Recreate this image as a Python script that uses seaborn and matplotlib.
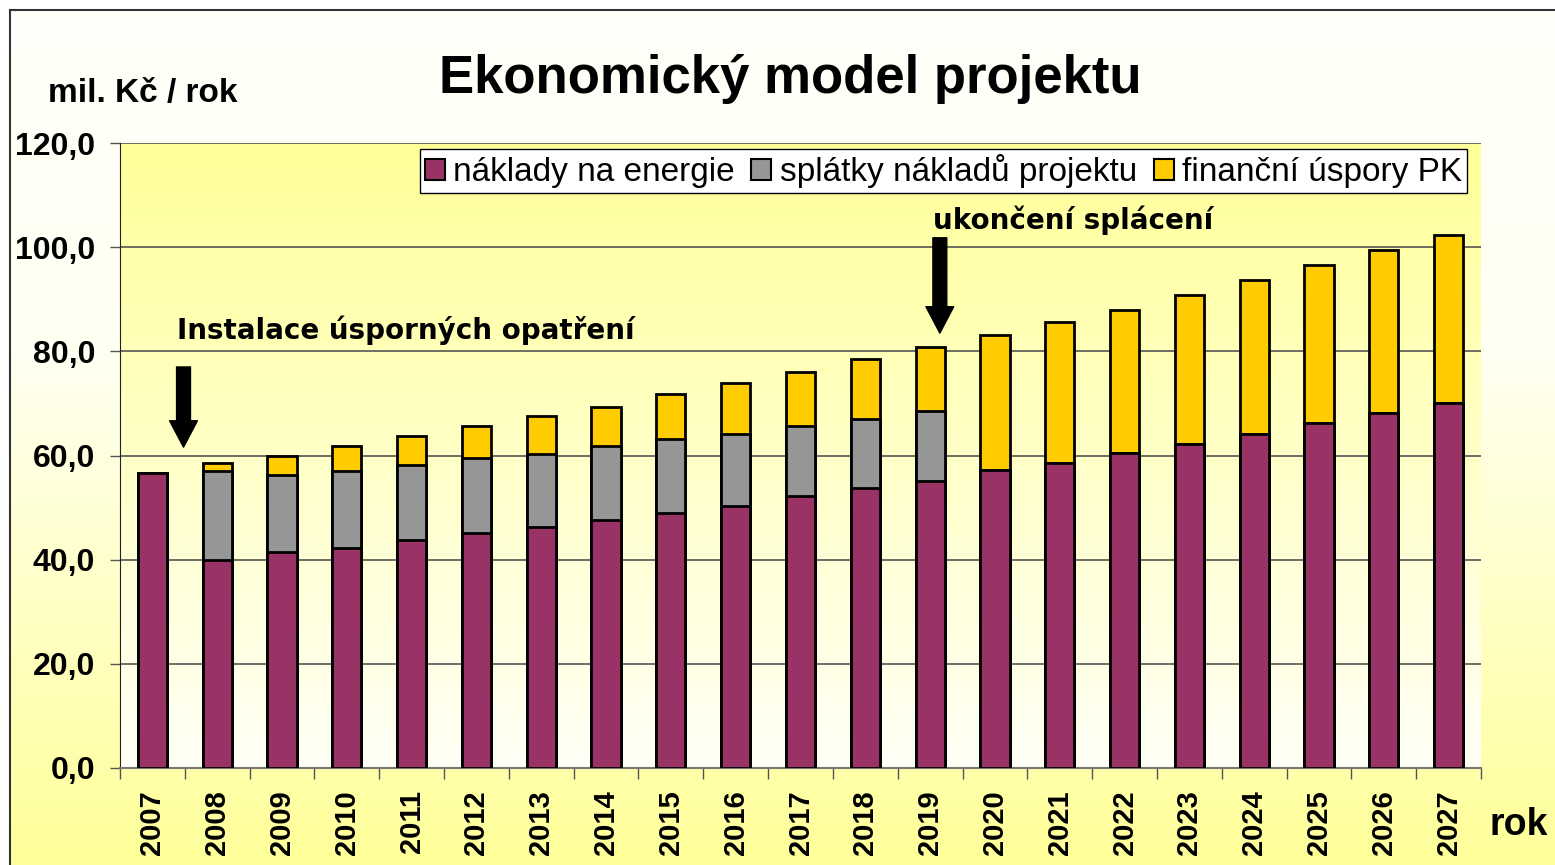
import numpy as np
import pandas as pd
import matplotlib
matplotlib.use("Agg")
import matplotlib.pyplot as plt
from matplotlib.colors import LinearSegmentedColormap
from matplotlib.patches import Patch
from matplotlib.lines import Line2D
import seaborn as sns

# 1. Data (mil. Kč / rok)
roky = [str(r) for r in range(2007, 2028)]
naklady = [56.6, 39.9, 41.4, 42.3, 43.8, 45.2, 46.2, 47.6, 49.0, 50.4, 52.3,
           53.8, 55.2, 57.2, 58.5, 60.4, 62.3, 64.2, 66.2, 68.1, 70.0]
splatky = [0.0, 17.1, 14.8, 14.8, 14.3, 14.3, 14.1, 14.2, 14.2, 13.8, 13.3,
           13.3, 13.3, 0.0, 0.0, 0.0, 0.0, 0.0, 0.0, 0.0, 0.0]
uspory = [0.0, 1.6, 3.8, 4.8, 5.7, 6.2, 7.3, 7.6, 8.7, 9.7, 10.5,
          11.4, 12.4, 26.0, 27.1, 27.6, 28.6, 29.5, 30.4, 31.3, 32.3]
legend_labels = ["náklady na energie", "splátky nákladů projektu", "finanční úspory PK"]
y_ticks = [0, 20, 40, 60, 80, 100, 120]

barvy = ["#993366", "#969696", "#FFCC00"]

df = pd.DataFrame({"rok": roky, "naklady": naklady, "splatky": splatky, "uspory": uspory})
df["do_splatek"] = df["naklady"] + df["splatky"]
df["celkem"] = df["do_splatek"] + df["uspory"]

plt.rcParams["font.family"] = ["Liberation Sans", "DejaVu Sans"]

fig = plt.figure(figsize=(15.55, 8.65), dpi=100, facecolor="white")

# 2. Backgrounds (figure gradient + plot area gradient)
bg = fig.add_axes([10 / 1555, 0, 1 - 10 / 1555, 1 - 10 / 865], zorder=-10)
bg_cmap = LinearSegmentedColormap.from_list(
    "bg", [(0, "#FFFF99"), (0.6, "#FFFFF2"), (1, "#FFFFFA")])
bg.imshow(np.linspace(0, 1, 256).reshape(-1, 1), aspect="auto", cmap=bg_cmap,
          origin="lower", extent=[0, 1, 0, 1])
bg.axis("off")

# frame lines
fig.add_artist(Line2D([10 / 1555, 10 / 1555], [0, 1 - 10 / 865], color="#333333", lw=1.5))
fig.add_artist(Line2D([10 / 1555, 1], [1 - 10 / 865, 1 - 10 / 865], color="#333333", lw=1.5))

ax = fig.add_axes([120 / 1555, 97 / 865, 1361 / 1555, 625 / 865], facecolor="none")

# 3. Stacked bars (drawn as overlapping cumulative bars)
for col, barva in zip(["celkem", "do_splatek", "naklady"], barvy[::-1]):
    sns.barplot(data=df, x="rok", y=col, color=barva, saturation=1, width=0.45,
                edgecolor="black", linewidth=2, ax=ax, zorder=3)

ax_cmap = LinearSegmentedColormap.from_list("ax", ["#FFFFF6", "#FFFF99"])
ax.imshow(np.linspace(0, 1, 256).reshape(-1, 1), aspect="auto", cmap=ax_cmap,
          origin="lower", extent=[-0.5, 20.5, 0, 120], zorder=0)

ax.set_xlim(-0.5, 20.5)
ax.set_ylim(0, 120)
ax.set_xlabel("")
ax.set_ylabel("")

ax.set_yticks(y_ticks)
ax.set_yticklabels([f"{v:.1f}".replace(".", ",") for v in y_ticks],
                   fontsize=23, fontweight="bold")
ax.yaxis.grid(True, color="#555555", lw=1.2, zorder=1)
ax.tick_params(axis="y", direction="out", length=7, width=1, color="#555555", pad=11)

ax.set_xticks(range(len(roky)))
ax.set_xticklabels(roky, rotation=90, fontsize=21, fontweight="bold")
ax.set_xticks(np.arange(-0.5, len(roky), 1), minor=True)
ax.tick_params(axis="x", which="major", length=0, pad=16)
ax.tick_params(axis="x", which="minor", direction="out", length=8, width=1, color="#555555")

for s in ["top", "right"]:
    ax.spines[s].set_visible(False)
ax.spines["left"].set_color("#222222")
ax.spines["bottom"].set_color("#777777")
ax.spines["bottom"].set_linewidth(1.5)

# 4. Legend
handles = [Patch(facecolor=c, edgecolor="black", linewidth=1.5) for c in barvy]
leg = ax.legend(handles, legend_labels, loc="upper right", bbox_to_anchor=(0.9897, 0.99),
                borderaxespad=0, ncol=3, fontsize=24, frameon=True, fancybox=False,
                framealpha=1, edgecolor="black", handlelength=0.6, handleheight=0.6,
                handletextpad=0.25, columnspacing=0.5, borderpad=0.15)
leg.get_frame().set_linewidth(1)
leg.set_zorder(5)

# 5. Annotations
ax.annotate("", xy=(0.48, 61.6), xytext=(0.48, 77.0),
            arrowprops=dict(facecolor="black", edgecolor="black", width=10,
                            headwidth=20, headlength=19), zorder=6)
ax.annotate("", xy=(12.15, 83.5), xytext=(12.15, 101.8),
            arrowprops=dict(facecolor="black", edgecolor="black", width=10,
                            headwidth=20, headlength=19), zorder=6)
ax.text(0.386, 84.1, "Instalace úsporných opatření", fontsize=20, fontweight="bold",
        family="DejaVu Sans", ha="left", va="center", zorder=6)
ax.text(12.04, 105.2, "ukončení splácení", fontsize=20, fontweight="bold",
        family="DejaVu Sans", ha="left", va="center", zorder=6)

fig.text(0.508, 0.909, "Ekonomický model projektu", fontsize=38, fontweight="bold",
         ha="center", va="center")
fig.text(0.031, 0.892, "mil. Kč / rok", fontsize=24, fontweight="bold",
         ha="left", va="center")
fig.text(0.977, 0.046, "rok", fontsize=27, fontweight="bold", ha="center", va="center")

fig.savefig("out.png", dpi=100, facecolor=fig.get_facecolor())
